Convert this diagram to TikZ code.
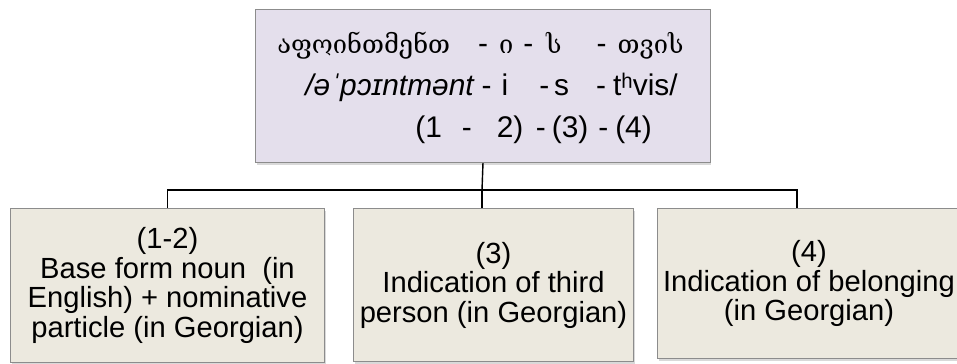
\documentclass[tikz,border=0pt]{standalone}
\usepackage{fontspec}
\setmainfont{Liberation Sans}
\newfontfamily\geofont{DejaVu Serif}
\usetikzlibrary{shadows}
\definecolor{lavbox}{HTML}{E4DFEC}
\definecolor{beigebox}{HTML}{ECE9DF}
\definecolor{boxline}{HTML}{8C8C8C}

\begin{document}
\begin{tikzpicture}[x=0.02cm,y=-0.02cm,wordbox/.style={draw=boxline,line width=0.6pt,fill=lavbox,anchor=north west,inner sep=0pt,drop shadow={shadow xshift=0.6pt,shadow yshift=-1.6pt,opacity=0.3}},partbox/.style={draw=boxline,line width=0.6pt,fill=beigebox,anchor=north west,align=center,inner sep=0pt,font=\fontsize{16.6}{16.8}\selectfont,drop shadow={shadow xshift=0.6pt,shadow yshift=-1.6pt,opacity=0.3}},rowtext/.style={anchor=base west,inner sep=0pt,font=\fontsize{17}{20}\selectfont},link/.style={line width=0.8pt}]
\useasboundingbox (0,0) rectangle (957,363);
\node[wordbox,minimum width=9.1cm,minimum height=3.06cm] (word) at (255,9) {};
\node[rowtext] (geo) at (277,53) {{\geofont\fontsize{14.5}{20}\selectfont აფოინთმენთ}\hspace{0.56cm}-\hspace{0.22cm}{\geofont\fontsize{14.5}{20}\selectfont ი}\hspace{0.2cm}-\hspace{0.26cm}{\geofont\fontsize{14.5}{20}\selectfont ს}\hspace{0.7cm}-\hspace{0.22cm}{\geofont\fontsize{14.5}{20}\selectfont თვის}};
\node[rowtext] (ipa) at (305,95) {\textit{/əˈpɔɪntmənt}\hspace{0.14cm}-\hspace{0.2cm}i\hspace{0.62cm}-\hspace{0.1cm}s\hspace{0.54cm}-\hspace{0.14cm}tʰvis/};
\node[rowtext] (num) at (415,137) {(1\hspace{0.4cm}-\hspace{0.5cm}2)\hspace{0.25cm}-\hspace{0.12cm}(3)\hspace{0.2cm}-\hspace{0.14cm}(4)};
\node[partbox,minimum width=6.28cm,minimum height=3.08cm] (p12) at (10,208) {(1-2)\\Base form noun\ \ (in\\English) + nominative\\particle (in Georgian)};
\node[partbox,minimum width=5.6cm,minimum height=3.06cm] (p3) at (353,208) {(3)\\Indication of third\\person (in Georgian)};
\node[partbox,minimum width=6.06cm,minimum height=3.0cm] (p4) at (657,208) {(4)\\Indication of belonging\\(in Georgian)};
\coordinate (bus) at (482,190);
\coordinate (j3) at (797,190);
\draw[link] (word.south) -- (bus);
\draw[link] (bus) -| (p12.north);
\draw[link] (bus) -- (bus |- p3.north);
\draw[link] (bus) -- (j3) -- (j3 |- p4.north);
\end{tikzpicture}
\end{document}
